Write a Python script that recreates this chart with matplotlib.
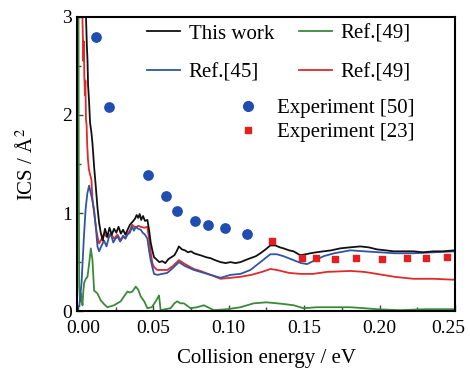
import matplotlib
matplotlib.use("Agg")
import matplotlib.pyplot as plt
import matplotlib.transforms as mtransforms
from matplotlib.lines import Line2D
from matplotlib.ticker import MultipleLocator

plt.rcParams['font.family'] = ['Liberation Serif', 'DejaVu Serif']
plt.rcParams['mathtext.fontset'] = 'stix'

# This work (black)
x_this = [0.0045, 0.0053, 0.0060, 0.0064, 0.0068, 0.0074, 0.0081, 0.0090, 0.0097, 0.0108, 0.0119,
          0.0130, 0.0141, 0.0152, 0.0165, 0.0180, 0.0195, 0.0210, 0.0225, 0.0240, 0.0255, 0.0270,
          0.0285, 0.0300, 0.0315, 0.0330, 0.0345, 0.0362, 0.0378, 0.0390, 0.0400, 0.0410, 0.0420,
          0.0432, 0.0445, 0.0461, 0.0472, 0.0483, 0.0494, 0.0505, 0.0520, 0.0540, 0.0560, 0.0580,
          0.0600, 0.0620, 0.0640, 0.0655, 0.0670, 0.0690, 0.0710, 0.0730, 0.0750, 0.0770, 0.0790,
          0.0813, 0.0850, 0.0880, 0.0910, 0.0946, 0.0980, 0.1012, 0.1045, 0.1078, 0.1110, 0.1144,
          0.1180, 0.1210, 0.1245, 0.1276, 0.1310, 0.1340, 0.1364, 0.1400, 0.1430, 0.1475, 0.1510,
          0.1541, 0.1580, 0.1629, 0.1680, 0.1739, 0.1800, 0.1872, 0.1930, 0.1982, 0.2040, 0.2092,
          0.2160, 0.2224, 0.2290, 0.2357, 0.2420, 0.2500]
y_this = [3.30, 3.05, 2.70, 2.56, 2.30, 2.15, 1.92, 1.82, 1.71, 1.47, 1.27,
          1.06, 0.90, 0.80, 0.72, 0.84, 0.76, 0.85, 0.78, 0.84, 0.80, 0.86,
          0.79, 0.83, 0.78, 0.83, 0.88, 0.91, 0.94, 0.98, 0.95, 0.99, 0.93,
          0.97, 0.92, 0.93, 0.83, 0.70, 0.62, 0.55, 0.53, 0.50, 0.51, 0.49,
          0.53, 0.55, 0.57, 0.61, 0.66, 0.63, 0.62, 0.60, 0.61, 0.59, 0.58,
          0.57, 0.55, 0.54, 0.52, 0.50, 0.49, 0.50, 0.49, 0.50, 0.52, 0.54,
          0.56, 0.59, 0.63, 0.67, 0.67, 0.65, 0.64, 0.62, 0.61, 0.57, 0.58,
          0.59, 0.60, 0.61, 0.62, 0.64, 0.65, 0.66, 0.65, 0.63, 0.62, 0.61,
          0.61, 0.61, 0.60, 0.61, 0.61, 0.62]

# Ref.[45] (blue)
x_45 = [0.0010, 0.0025, 0.0040, 0.0052, 0.0063, 0.0075, 0.0086, 0.0097, 0.0108, 0.0120, 0.0130,
        0.0141, 0.0155, 0.0174, 0.0190, 0.0205, 0.0218, 0.0235, 0.0250, 0.0263, 0.0280, 0.0300,
        0.0315, 0.0329, 0.0345, 0.0360, 0.0372, 0.0384, 0.0400, 0.0417, 0.0430, 0.0445, 0.0461,
        0.0472, 0.0483, 0.0494, 0.0505, 0.0527, 0.0560, 0.0593, 0.0630, 0.0670, 0.0710, 0.0769,
        0.0813, 0.0880, 0.0946, 0.1012, 0.1078, 0.1144, 0.1210, 0.1276, 0.1320, 0.1364, 0.1430,
        0.1480, 0.1520, 0.1560, 0.1629, 0.1700, 0.1806, 0.1900, 0.2000, 0.2100, 0.2224, 0.2357,
        0.2500]
y_45 = [0.05, 0.30, 0.75, 1.05, 1.20, 1.28, 1.20, 1.13, 1.03, 0.85, 0.66,
        0.61, 0.66, 0.72, 0.66, 0.75, 0.79, 0.70, 0.74, 0.76, 0.71, 0.77,
        0.74, 0.78, 0.80, 0.86, 0.82, 0.86, 0.84, 0.83, 0.80, 0.78, 0.74,
        0.62, 0.52, 0.45, 0.38, 0.37, 0.38, 0.39, 0.44, 0.50, 0.46, 0.42,
        0.40, 0.37, 0.34, 0.37, 0.38, 0.42, 0.50, 0.58, 0.58, 0.56, 0.52,
        0.49, 0.48, 0.51, 0.56, 0.59, 0.62, 0.61, 0.60, 0.59, 0.59, 0.60,
        0.61]

# Ref.[49] (green)
x_49g = [0.0004, 0.0006, 0.0009, 0.0015, 0.0020, 0.0025, 0.0031, 0.0036, 0.0042, 0.0053, 0.0064,
         0.0076, 0.0086, 0.0097, 0.0108, 0.0130, 0.0152, 0.0175, 0.0196, 0.0218, 0.0240, 0.0262,
         0.0284, 0.0306, 0.0329, 0.0345, 0.0362, 0.0384, 0.0400, 0.0417, 0.0440, 0.0461, 0.0490,
         0.0516, 0.0538, 0.0549, 0.0580, 0.0615, 0.0640, 0.0659, 0.0680, 0.0703, 0.0747, 0.0790,
         0.0835, 0.0902, 0.0990, 0.1078, 0.1166, 0.1250, 0.1321, 0.1380, 0.1431, 0.1497, 0.1585,
         0.1700, 0.1806, 0.1900, 0.1982, 0.2136, 0.2300, 0.2500]
y_49g = [3.50, 1.60, 0.25, 0.10, 0.18, 0.12, 0.06, 0.20, 0.29, 0.33, 0.35,
         0.50, 0.64, 0.52, 0.21, 0.18, 0.11, 0.07, 0.04, 0.05, 0.06, 0.08,
         0.10, 0.15, 0.20, 0.19, 0.20, 0.25, 0.22, 0.15, 0.10, 0.03, 0.04,
         0.10, 0.16, 0.01, 0.02, 0.03, 0.08, 0.10, 0.08, 0.08, 0.03, 0.04,
         0.06, 0.01, 0.02, 0.04, 0.08, 0.09, 0.08, 0.07, 0.06, 0.03, 0.04,
         0.04, 0.04, 0.03, 0.02, 0.01, 0.02, 0.02]

# Ref.[49] (red)
x_49r = [0.0028, 0.0031, 0.0034, 0.0037, 0.0040, 0.0043, 0.0047, 0.0050, 0.0054, 0.0058, 0.0062,
         0.0067, 0.0073, 0.0080, 0.0090, 0.0097, 0.0108, 0.0120, 0.0130, 0.0141, 0.0152, 0.0174,
         0.0195, 0.0218, 0.0240, 0.0263, 0.0285, 0.0300, 0.0315, 0.0329, 0.0345, 0.0360, 0.0384,
         0.0400, 0.0417, 0.0440, 0.0461, 0.0472, 0.0483, 0.0494, 0.0505, 0.0527, 0.0560, 0.0593,
         0.0630, 0.0670, 0.0710, 0.0769, 0.0813, 0.0880, 0.0946, 0.1012, 0.1078, 0.1150, 0.1220,
         0.1276, 0.1320, 0.1400, 0.1475, 0.1560, 0.1650, 0.1806, 0.1900, 0.1982, 0.2100, 0.2224,
         0.2357, 0.2500]
y_49r = [3.30, 2.95, 2.75, 2.55, 2.75, 2.40, 2.20, 2.35, 1.95, 1.90, 1.70,
         1.55, 1.45, 1.40, 1.34, 1.13, 1.00, 0.85, 0.76, 0.69, 0.72, 0.79,
         0.75, 0.79, 0.74, 0.78, 0.72, 0.76, 0.74, 0.79, 0.82, 0.88, 0.85,
         0.87, 0.86, 0.85, 0.86, 0.74, 0.60, 0.49, 0.45, 0.42, 0.42, 0.42,
         0.46, 0.52, 0.48, 0.43, 0.41, 0.37, 0.33, 0.34, 0.35, 0.37, 0.40,
         0.43, 0.42, 0.39, 0.38, 0.38, 0.40, 0.41, 0.40, 0.38, 0.35, 0.33,
         0.33, 0.32]

# Experiment [50] (blue dots)
x_exp50 = [0.0119, 0.0207, 0.0468, 0.0582, 0.0659, 0.0774, 0.0862, 0.0974, 0.1122]
y_exp50 = [2.79, 2.08, 1.39, 1.17, 1.02, 0.92, 0.88, 0.85, 0.79]

# Experiment [23] (red squares)
x_exp23 = [0.1288, 0.1486, 0.1581, 0.1706, 0.1845, 0.2019, 0.2181, 0.2306, 0.2449]
y_exp23 = [0.72, 0.54, 0.54, 0.53, 0.54, 0.53, 0.54, 0.54, 0.55]

xtick_vals = [0, 0.05, 0.10, 0.15, 0.20, 0.25]
xtick_labels = ['0.00', '0.05', '0.10', '0.15', '0.20', '0.25']

c_black = '#111111'
c_blue = '#2f55a4'
c_green = '#3a8a3a'
c_red = '#e02a2a'
c_dot = '#1f4db0'
c_sq = '#e51f1f'

fig = plt.figure(figsize=(4.70, 3.74), dpi=100)
ax = fig.add_axes([0.164, 0.168, 0.804, 0.787])

ax.plot(x_49g, y_49g, color=c_green, lw=1.3)
ax.plot(x_49r, y_49r, color=c_red, lw=1.3)
ax.plot(x_45, y_45, color=c_blue, lw=1.3)
ax.plot(x_this, y_this, color=c_black, lw=1.3)
ax.scatter(x_exp50, y_exp50, s=45, color=c_dot, zorder=5)
ax.scatter(x_exp23, y_exp23, s=25, marker='s', color=c_sq, zorder=5)

ax.set_xlim(-0.0005, 0.25)
ax.set_ylim(0, 3)
ax.xaxis.set_minor_locator(MultipleLocator(0.025))
ax.yaxis.set_major_locator(MultipleLocator(1))
ax.yaxis.set_minor_locator(MultipleLocator(0.5))
ax.set_xticks(xtick_vals)
ax.set_xticklabels(xtick_labels)
ax.tick_params(which='both', direction='in', labelsize=14, width=1, color='#444444')
ax.tick_params(which='major', length=4)
ax.tick_params(which='minor', length=3)
ax.tick_params(axis='x', pad=6)
for s in ax.spines.values():
    s.set_linewidth(1.5)

# nudge the end labels like in the original
tl = ax.get_xticklabels()
tl[0].set_transform(tl[0].get_transform() + mtransforms.ScaledTranslation(0.05, 0, fig.dpi_scale_trans))
tl[-1].set_transform(tl[-1].get_transform() + mtransforms.ScaledTranslation(-0.07, 0, fig.dpi_scale_trans))

ax.set_xlabel('Collision energy / eV', fontsize=15, labelpad=9)
ax.set_ylabel('ICS / Å$^2$', fontsize=15, labelpad=18)

line_handles = [Line2D([], [], color=c_black, lw=1.3),
                Line2D([], [], color=c_blue, lw=1.3),
                Line2D([], [], color=c_green, lw=1.3),
                Line2D([], [], color=c_red, lw=1.3)]
line_labels = ['This work', 'Ref.[45]', 'Ref.[49]', 'Ref.[49]']
leg1 = ax.legend(line_handles, line_labels, ncol=2, frameon=False, fontsize=15,
                 loc='upper left', bbox_to_anchor=(0.185, 0.975), borderpad=0, borderaxespad=0,
                 handlelength=1.6, handletextpad=0.4, columnspacing=1.2, labelspacing=0.9)
ax.add_artist(leg1)

mk_handles = [Line2D([], [], ls='none', marker='o', ms=7, color=c_dot),
              Line2D([], [], ls='none', marker='s', ms=5, color=c_sq)]
ax.legend(mk_handles, ['Experiment [50]', 'Experiment [23]'], frameon=False, fontsize=15,
          loc='upper left', bbox_to_anchor=(0.425, 0.722), borderpad=0, borderaxespad=0,
          handlelength=1.0, handletextpad=0.9, labelspacing=0.2)

fig.savefig('out.png', dpi=100)
